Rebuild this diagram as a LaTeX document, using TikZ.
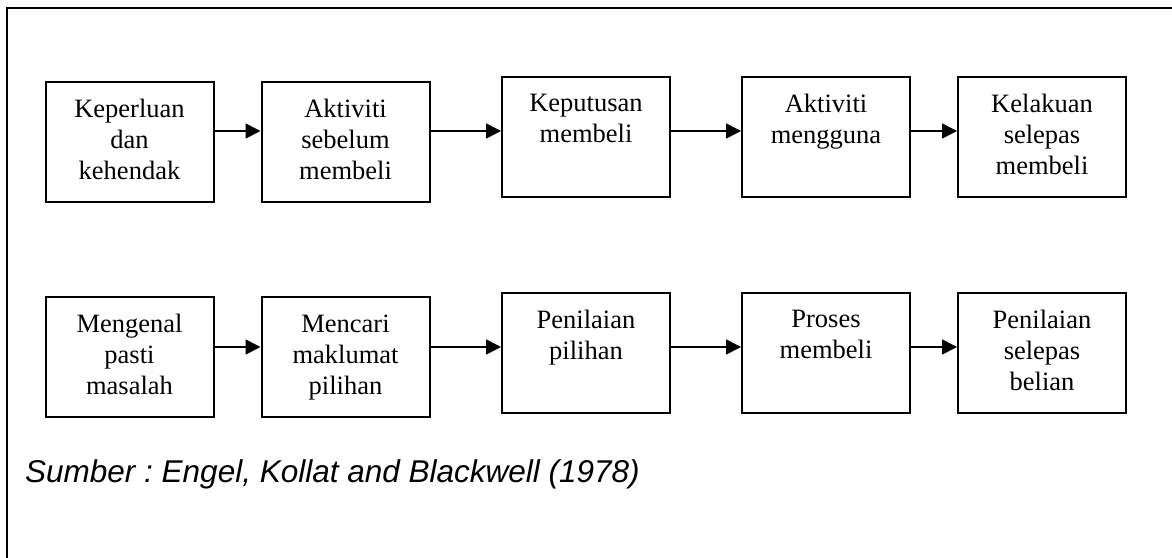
\documentclass[tikz,border=0pt]{standalone}
\usepackage{fontspec}
\setmainfont{Liberation Serif}
\newfontfamily\capfont{Liberation Sans}
\usetikzlibrary{arrows.meta}
\frenchspacing

% box label: lines stacked from the top of the box
\newcommand{\boxtext}[1]{\parbox[c][85pt][t]{164pt}{\centering\fontsize{26.5}{31}\selectfont #1}}

\begin{document}
\begin{tikzpicture}[x=1pt,y=-1pt,
  stagebox/.style={draw,line width=2pt,rectangle,minimum width=168pt,minimum height=120pt,inner sep=0pt},
  flow/.style={line width=1.6pt,-{Triangle[length=15pt,width=15pt]}},
  frame/.style={line width=2pt}]
\useasboundingbox (0,0) rectangle (1172,557);

% outer frame (left and top edges)
\draw[frame] (7,558) -- (7,8) -- (1173,8);

% upper row
\node[stagebox] (k1) at (129.5,142) {\boxtext{Keperluan\\dan\\kehendak}};
\node[stagebox] (k2) at (345.5,142) {\boxtext{Aktiviti\\sebelum\\membeli}};
\node[stagebox] (k3) at (586,137) {\boxtext{Keputusan\\membeli}};
\node[stagebox] (k4) at (826,137) {\boxtext{Aktiviti\\mengguna}};
\node[stagebox] (k5) at (1042,137) {\boxtext{Kelakuan\\selepas\\membeli}};

% lower row
\node[stagebox] (p1) at (129.5,357) {\boxtext{Mengenal\\pasti\\masalah}};
\node[stagebox] (p2) at (345.5,357) {\boxtext{Mencari\\maklumat\\pilihan}};
\node[stagebox] (p3) at (586,353) {\boxtext{Penilaian\\pilihan}};
\node[stagebox] (p4) at (826,353) {\boxtext{Proses\\membeli}};
\node[stagebox] (p5) at (1042,353) {\boxtext{Penilaian\\selepas\\belian}};

% connectors
\foreach \a/\b in {k1/k2,k2/k3,k3/k4,k4/k5}
  \draw[flow] (\a.east |- 0,131) -- (\b.west |- 0,131);
\foreach \a/\b in {p1/p2,p2/p3,p3/p4,p4/p5}
  \draw[flow] (\a.east |- 0,347) -- (\b.west |- 0,347);

% source line
\node[anchor=base west,inner sep=0pt,font=\capfont\itshape\fontsize{31.5}{36}\selectfont] (src) at (25,482)
  {Sumber : Engel, Kollat and Blackwell (1978)};
\end{tikzpicture}
\end{document}
